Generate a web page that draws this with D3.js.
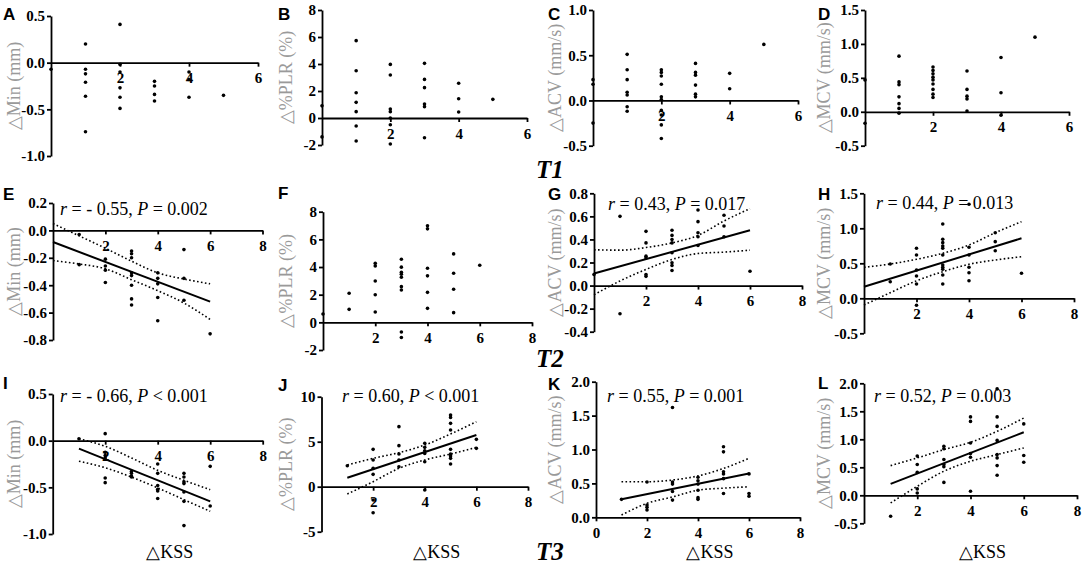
<!DOCTYPE html>
<html>
<head>
<meta charset="utf-8">
<script src="https://cdn.jsdelivr.net/npm/d3@7"></script>
<style>
  body { margin: 0; background: #fff; }
</style>
</head>
<body>
<div id="chart"></div>
<script>
// points are [ΔKSS, value]
const ptsA = [[0,-0.07],[1,0.2],[1,-0.07],[1,-0.12],[1,-0.21],[1,-0.36],[1,-0.74],
  [2,0.41],[2,-0.02],[2,-0.1],[2,-0.27],[2,-0.37],[2,-0.49],
  [3,-0.2],[3,-0.25],[3,-0.34],[3,-0.41],[4,-0.1],[4,-0.18],[4,-0.37],[5,-0.35]];
const ptsB = [[0,0.9],[0,-1.4],[1,5.73],[1,3.5],[1,1.87],[1,1.16],[1,0.47],[1,-0.59],[1,-1.7],
  [2,3.97],[2,3.18],[2,0.67],[2,0.47],[2,0],[2,-0.5],[2,-1.93],
  [3,4.05],[3,2.86],[3,2.25],[3,1.04],[3,0.84],[3,-1.46],[4,2.57],[4,1.43],[4,0.44],[5,1.38]];
const ptsC = [[0,0.23],[0,0.18],[0,-0.25],[1,0.51],[1,0.34],[1,0.23],[1,0.09],[1,0.06],[1,-0.07],[1,-0.12],
  [2,0.34],[2,0.31],[2,0.27],[2,0.18],[2,0.04],[2,0.01],[2,-0.11],[2,-0.16],[2,-0.27],[2,-0.42],
  [3,0.41],[3,0.31],[3,0.28],[3,0.17],[3,0.07],[3,0.04],[4,0.3],[4,0.13],[5,0.62]];
const ptsD = [[0,0.47],[0,-0.17],[1,0.82],[1,0.44],[1,0.4],[1,0.22],[1,0.12],[1,0.05],[1,-0.02],
  [2,0.66],[2,0.61],[2,0.56],[2,0.51],[2,0.47],[2,0.41],[2,0.33],[2,0.26],[2,0.21],
  [3,0.6],[3,0.33],[3,0.23],[3,0.19],[3,0.01],[4,0.8],[4,0.28],[4,-0.05],[5,1.1]];
const ptsE = [[1,-0.03],[1,-0.25],[2,-0.21],[2,-0.26],[2,-0.29],[2,-0.38],
  [3,-0.15],[3,-0.17],[3,-0.2],[3,-0.31],[3,-0.33],[3,-0.4],[3,-0.5],[3,-0.545],
  [4,-0.31],[4,-0.35],[4,-0.39],[4,-0.49],[4,-0.66],[5,-0.14],[5,-0.35],[5,-0.51],[6,-0.755]];
const ptsF = [[0,0.6],[1,2.1],[1,0.94],[2,4.27],[2,4.08],[2,2.99],[2,2.0],[2,0.75],
  [3,4.56],[3,3.99],[3,3.62],[3,3.48],[3,3.26],[3,2.58],[3,2.34],[3,-0.7],[3,-1.1],
  [4,6.98],[4,6.76],[4,3.91],[4,3.36],[4,2.17],[4,1.01],[5,4.95],[5,3.55],[5,2.39],[5,0.7],[6,4.13]];
const ptsG = [[0,0.096],[1,0.6],[1,-0.245],[2,0.47],[2,0.37],[2,0.255],[2,0.24],[2,0.096],[2,0.08],
  [3,0.48],[3,0.435],[3,0.4],[3,0.37],[3,0.284],[3,0.197],[3,0.174],[3,0.13],
  [4,0.655],[4,0.554],[4,0.458],[4,0.423],[4,0.348],[5,0.61],[5,0.516],[5,0.423],[6,0.124]];
const ptsH = [[1,0.49],[1,0.237],[2,0.714],[2,0.619],[2,0.404],[2,0.319],[2,0.204],[2,-0.1],
  [3,1.061],[3,0.843],[3,0.795],[3,0.747],[3,0.714],[3,0.619],[3,0.476],[3,0.443],[3,0.414],[3,0.333],[3,0.204],
  [4,1.343],[4,0.729],[4,0.619],[4,0.443],[4,0.366],[4,0.251],[5,0.937],[5,0.809],[5,0.68],[6,0.357]];
const ptsI = [[1,0.02],[2,0.075],[2,-0.125],[2,-0.16],[2,-0.186],[2,-0.4],[2,-0.45],
  [3,-0.33],[3,-0.35],[3,-0.38],[3,-0.39],[4,-0.25],[4,-0.35],[4,-0.48],[4,-0.52],[4,-0.54],[4,-0.62],
  [5,-0.35],[5,-0.39],[5,-0.44],[5,-0.46],[5,-0.55],[5,-0.65],[5,-0.91],[6,-0.275],[6,-0.7]];
const ptsJ = [[1,2.33],[2,4.15],[2,2.96],[2,2.04],[2,1.37],[2,-1.48],[2,-2.89],
  [3,6.67],[3,4.56],[3,3.63],[3,2.96],[3,2.22],[4,4.82],[4,4.37],[4,4.0],[4,3.7],[4,2.78],[4,-0.37],
  [5,7.96],[5,7.7],[5,7.04],[5,6.3],[5,4.15],[5,3.63],[5,3.4],[5,3.15],[5,2.52],[6,5.26],[6,4.26]];
const ptsK = [[1,0.265],[2,0.52],[2,0.18],[2,0.147],[2,0.107],[3,1.62],[3,0.52],[3,0.49],[3,0.38],[3,0.254],
  [4,0.59],[4,0.54],[4,0.49],[4,0.4],[4,0.29],[4,0.265],[5,1.04],[5,0.965],[5,0.67],[5,0.64],[5,0.57],[5,0.35],
  [6,0.64],[6,0.35],[6,0.31]];
const ptsL = [[1,-0.375],[2,0.7],[2,0.55],[2,0.41],[2,0.114],[2,0.04],
  [3,0.875],[3,0.83],[3,0.64],[3,0.55],[3,0.51],[3,0.23],[4,1.4],[4,1.32],[4,0.935],[4,0.745],[4,0.68],[4,0.071],
  [5,1.9],[5,1.4],[5,1.23],[5,0.98],[5,0.727],[5,0.668],[5,0.53],[5,0.357],[6,1.275],[6,0.71],[6,0.59]];

// regression lines and 95% bands
const fitE = [[0,-0.085],[6,-0.52]];
const upE = [[0,0.05],[1,-0.04],[2,-0.13],[3,-0.225],[4,-0.31],[5,-0.355],[6,-0.39]];
const loE = [[0,-0.22],[1,-0.245],[2,-0.28],[3,-0.36],[4,-0.44],[5,-0.53],[6,-0.65]];
const fitG = [[0,0.104],[6,0.48]];
const upG = [[0,0.31],[1,0.307],[2,0.33],[3,0.37],[4,0.435],[5,0.56],[6,0.667]];
const loG = [[0,-0.08],[1,0.04],[2,0.14],[3,0.226],[4,0.278],[5,0.29],[6,0.307]];
const fitH = [[0,0.166],[6,0.857]];
const upH = [[0,0.443],[1,0.49],[2,0.557],[3,0.643],[4,0.761],[5,0.937],[6,1.094]];
const loH = [[0,-0.096],[1,0.08],[2,0.25],[3,0.38],[4,0.486],[5,0.547],[6,0.594]];
const fitI = [[1,-0.086],[6,-0.65]];
const upI = [[1,0.02],[2,-0.06],[3,-0.185],[4,-0.318],[5,-0.425],[6,-0.525]];
const loI = [[1,-0.22],[2,-0.29],[3,-0.39],[4,-0.506],[5,-0.632],[6,-0.757]];
const fitJ = [[1,1.0],[6,5.74]];
const upJ = [[1,2.41],[2,3.15],[3,3.78],[4,4.63],[5,5.86],[6,7.22]];
const loJ = [[1,-0.81],[2,0.56],[3,2.04],[4,2.97],[5,3.63],[6,4.37]];
const fitK = [[1,0.265],[6,0.647]];
const upK = [[1,0.524],[2,0.524],[3,0.55],[4,0.61],[5,0.72],[6,0.87]];
const loK = [[1,0.034],[2,0.206],[3,0.3],[4,0.4],[5,0.43],[6,0.45]];
const fitL = [[1,0.204],[6,1.125]];
const upL = [[1,0.53],[2,0.668],[3,0.816],[4,0.946],[5,1.143],[6,1.38]];
const loL = [[1,-0.136],[2,0.16],[3,0.43],[4,0.607],[5,0.727],[6,0.846]];

// r, comparator, P
const statsE = ["- 0.55", "=", "0.002"];
const statsG = ["0.43", "=", "0.017"];
const statsH = ["0.44", "=", "0.013"];
const statsI = ["- 0.66", "<", "0.001"];
const statsJ = ["0.60", "<", "0.001"];
const statsK = ["0.55", "=", "0.001"];
const statsL = ["0.52", "=", "0.003"];

const yTicksA = [-1.0, -0.5, 0, 0.5];
const yTicksB = [-2, 0, 2, 4, 6, 8];
const yTicksC = [-0.5, 0, 0.5, 1.0];
const yTicksD = [-0.5, 0, 0.5, 1.0, 1.5];
const yTicksE = [-0.8, -0.6, -0.4, -0.2, 0, 0.2];
const yTicksF = [-2, 0, 2, 4, 6, 8];
const yTicksG = [-0.4, -0.2, 0, 0.2, 0.4, 0.6, 0.8];
const yTicksH = [-0.5, 0, 0.5, 1.0, 1.5];
const yTicksI = [-1.0, -0.5, 0, 0.5];
const yTicksJ = [-5, 0, 5, 10];
const yTicksK = [0, 0.5, 1.0, 1.5, 2.0];
const yTicksL = [-0.5, 0, 0.5, 1.0, 1.5, 2.0];
const xTicks6 = [2, 4, 6];
const xTicks8 = [2, 4, 6, 8];
const xTicksK = [0, 2, 4, 6, 8];

const yLabels = ["△Min (mm)", "△%PLR (%)", "△ACV (mm/s)", "△MCV (mm/s)"];
const rowLabels = ["T1", "T2", "T3"];
const xLabel = "△KSS";

const serif = "'Liberation Serif', 'Times New Roman', serif";
const sans = "'Liberation Sans', Arial, sans-serif";

const svg = d3.select("#chart").append("svg")
  .attr("width", 1084)
  .attr("height", 572)
  .style("background", "#fff");

const colX = [3, 278, 548, 818];
const yLabelX = [14, 286, 555, 824];

const panels = [
  { letter: "A", col: 0, ly: 20, pts: ptsA, yTicks: yTicksA, dec: 1, xTicks: xTicks6, xMax: 6, left: 51, right: 258, top: 16, bottom: 156 },
  { letter: "B", col: 1, ly: 20, pts: ptsB, yTicks: yTicksB, dec: 0, xTicks: xTicks6, xMax: 6, left: 322, right: 527, top: 10, bottom: 145 },
  { letter: "C", col: 2, ly: 20, pts: ptsC, yTicks: yTicksC, dec: 1, xTicks: xTicks6, xMax: 6, left: 593, right: 798, top: 10, bottom: 145.7 },
  { letter: "D", col: 3, ly: 20, pts: ptsD, yTicks: yTicksD, dec: 1, xTicks: xTicks6, xMax: 6, left: 865, right: 1069, top: 10, bottom: 145.7 },
  { letter: "E", col: 0, ly: 200, pts: ptsE, yTicks: yTicksE, dec: 1, xTicks: xTicks8, xMax: 8, left: 53, right: 262.5, top: 203, bottom: 340,
    fit: fitE, up: upE, lo: loE, stats: statsE, sx: 60, sy: 215 },
  { letter: "F", col: 1, ly: 199, pts: ptsF, yTicks: yTicksF, dec: 0, xTicks: xTicks8, xMax: 8, left: 323, right: 532, top: 211.7, bottom: 350 },
  { letter: "G", col: 2, ly: 200, pts: ptsG, yTicks: yTicksG, dec: 1, xTicks: xTicks8, xMax: 8, left: 594, right: 802, top: 193.3, bottom: 331.7,
    fit: fitG, up: upG, lo: loG, stats: statsG, sx: 608, sy: 210 },
  { letter: "H", col: 3, ly: 200, pts: ptsH, yTicks: yTicksH, dec: 1, xTicks: xTicks8, xMax: 8, left: 864, right: 1074, top: 193.3, bottom: 333.3,
    fit: fitH, up: upH, lo: loH, stats: statsH, sx: 876, sy: 209 },
  { letter: "I", col: 0, ly: 389, pts: ptsI, yTicks: yTicksI, dec: 1, xTicks: xTicks8, xMax: 8, left: 52.7, right: 262.7, top: 394, bottom: 534,
    fit: fitI, up: upI, lo: loI, stats: statsI, sx: 60, sy: 401.7 },
  { letter: "J", col: 1, ly: 391, pts: ptsJ, yTicks: yTicksJ, dec: 0, xTicks: xTicks8, xMax: 8, left: 321.5, right: 528, top: 396.7, bottom: 531.7,
    fit: fitJ, up: upJ, lo: loJ, stats: statsJ, sx: 342, sy: 401.7 },
  { letter: "K", col: 2, ly: 390, pts: ptsK, yTicks: yTicksK, dec: 1, xTicks: xTicksK, xMax: 8, left: 596, right: 800, top: 381.7, bottom: 517.3,
    fit: fitK, up: upK, lo: loK, stats: statsK, sx: 607, sy: 401.7 },
  { letter: "L", col: 3, ly: 389, pts: ptsL, yTicks: yTicksL, dec: 1, xTicks: xTicks8, xMax: 8, left: 864, right: 1077, top: 383.3, bottom: 523.3,
    fit: fitL, up: upL, lo: loL, stats: statsL, sx: 874, sy: 401.7 },
];

const styleAxis = (g) => {
  g.selectAll("path, line").attr("stroke", "#000").attr("stroke-width", 1.8);
  g.selectAll("text")
    .attr("fill", "#000")
    .style("font-family", serif)
    .style("font-size", "15px")
    .style("font-weight", "bold");
};

panels.forEach((p) => {
  const x = d3.scaleLinear().domain([0, p.xMax]).range([p.left, p.right]);
  const y = d3.scaleLinear()
    .domain([p.yTicks[0], p.yTicks[p.yTicks.length - 1]])
    .range([p.bottom, p.top]);
  const g = svg.append("g");

  g.append("g")
    .attr("transform", `translate(${p.left},0)`)
    .call(d3.axisLeft(y).tickValues(p.yTicks).tickFormat((d) => d.toFixed(p.dec))
      .tickSize(4).tickPadding(2).tickSizeOuter(0))
    .call(styleAxis);

  g.append("g")
    .attr("transform", `translate(0,${y(0)})`)
    .call(d3.axisBottom(x).tickValues(p.xTicks).tickFormat(d3.format("d"))
      .tickSize(4).tickPadding(6).tickSizeOuter(0))
    .call(styleAxis);

  if (p.fit) {
    const band = d3.line().x((d) => x(d[0])).y((d) => y(d[1])).curve(d3.curveMonotoneX);
    [p.up, p.lo].forEach((b) => {
      g.append("path")
        .attr("d", band(b))
        .attr("fill", "none")
        .attr("stroke", "#000")
        .attr("stroke-width", 1.6)
        .attr("stroke-dasharray", "1.6,2.4");
    });
    g.append("path")
      .attr("d", d3.line().x((d) => x(d[0])).y((d) => y(d[1]))(p.fit))
      .attr("fill", "none")
      .attr("stroke", "#000")
      .attr("stroke-width", 2);

    const t = g.append("text")
      .attr("x", p.sx)
      .attr("y", p.sy)
      .style("font-family", serif)
      .style("font-size", "18px");
    t.append("tspan").style("font-style", "italic").text("r");
    t.append("tspan").text(` = ${p.stats[0]}, `);
    t.append("tspan").style("font-style", "italic").text("P");
    t.append("tspan").text(` ${p.stats[1]} ${p.stats[2]}`);
  }

  g.selectAll("circle")
    .data(p.pts)
    .enter()
    .append("circle")
    .attr("cx", (d) => x(d[0]))
    .attr("cy", (d) => y(d[1]))
    .attr("r", 1.8)
    .attr("fill", "#000");

  g.append("text")
    .attr("x", colX[p.col])
    .attr("y", p.ly)
    .text(p.letter)
    .style("font-family", sans)
    .style("font-weight", "bold")
    .style("font-size", "17px");

  const cy = (p.top + p.bottom) / 2;
  g.append("text")
    .attr("transform", `translate(${yLabelX[p.col]},${cy}) rotate(-90)`)
    .attr("text-anchor", "middle")
    .attr("dy", "0.35em")
    .text(yLabels[p.col])
    .style("font-family", serif)
    .style("font-size", "18px")
    .attr("fill", "#9a9a9a");

  if (p.ly > 380) {
    svg.append("text")
      .attr("x", (p.left + p.right) / 2 + 12)
      .attr("y", 558)
      .attr("text-anchor", "middle")
      .text(xLabel)
      .style("font-family", serif)
      .style("font-size", "18px");
  }
});

const rowY = [178, 367, 560];
rowLabels.forEach((r, i) => {
  svg.append("text")
    .attr("x", 536)
    .attr("y", rowY[i])
    .text(r)
    .style("font-family", serif)
    .style("font-weight", "bold")
    .style("font-style", "italic")
    .style("font-size", "25px");
});
</script>
</body>
</html>
